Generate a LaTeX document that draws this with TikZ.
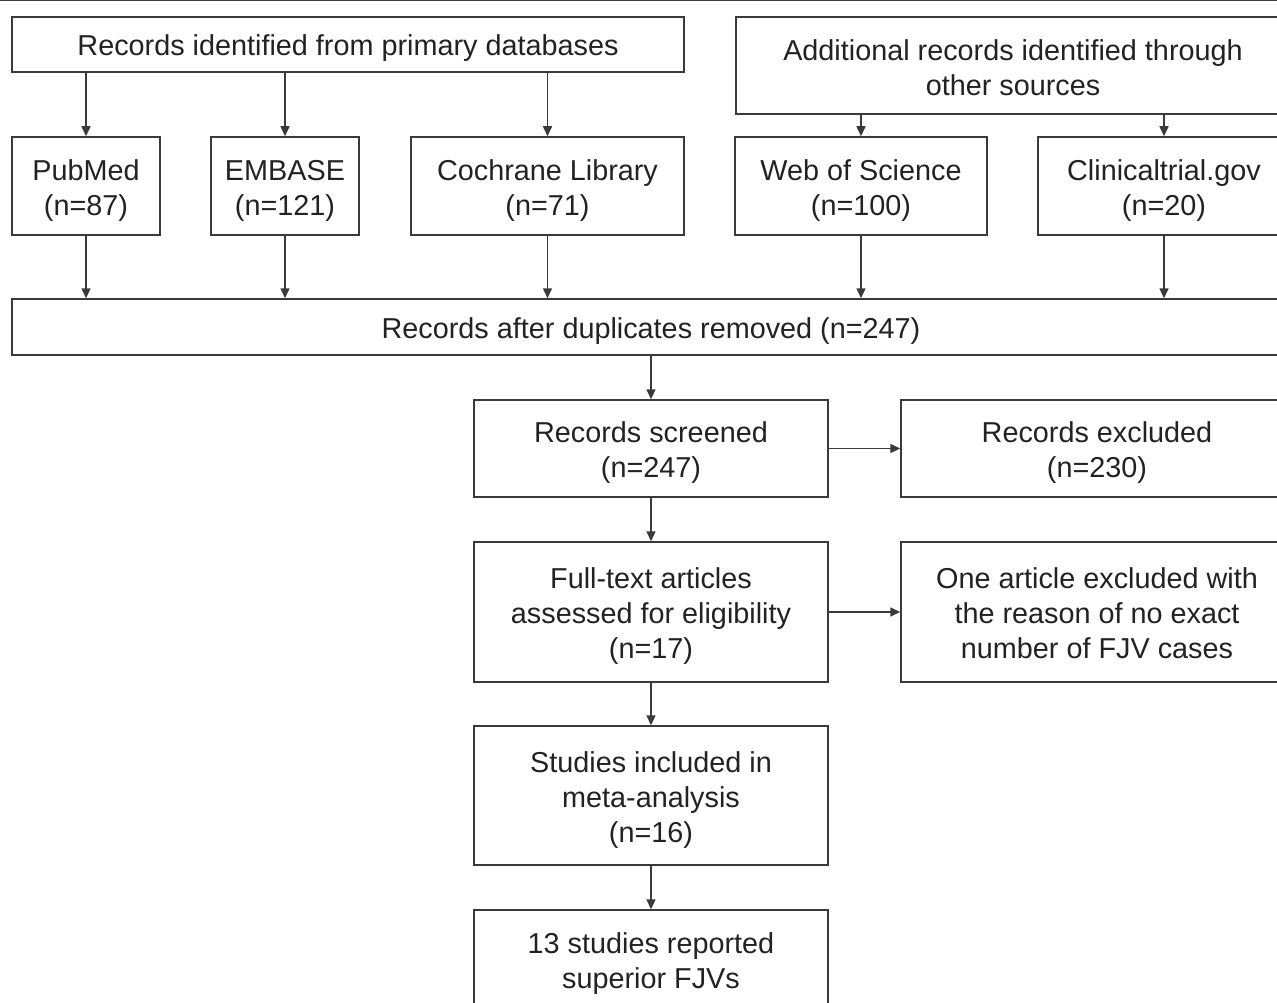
\documentclass[tikz,border=0pt]{standalone}
\usepackage{fontspec}
\setmainfont{Liberation Sans}
\usetikzlibrary{arrows.meta}
\definecolor{ln}{HTML}{3A3A3A}
\definecolor{tx}{HTML}{222222}
\newcommand\tstr{\rule{0pt}{29pt}}
\begin{document}
\begin{tikzpicture}[x=1pt,y=-1pt,
  box/.style={draw=ln, line width=1.5pt, rectangle, inner sep=0pt, align=center, text=tx,
    font=\fontsize{28.8}{35}\selectfont,
    execute at begin node={\rule{0pt}{30pt}},
    execute at end node={\rule[-7pt]{0pt}{7pt}}},
  mbox/.style={draw=ln, line width=1.5pt, rectangle, inner sep=0pt, align=center, text=tx,
    font=\fontsize{28.8}{35}\selectfont},
  arr/.style={draw=ln, line width=1.5pt, -{Triangle[length=10pt,width=9pt]}}]
\clip (0,0) rectangle (1277,1003);
\useasboundingbox (0,0) rectangle (1277,1003);
\draw[ln, line width=1.5pt] (0,0.75) -- (1277,0.75);
% top row
\node[box, minimum width=672pt, minimum height=55pt] (top) at (348,44.5) {Records identified from primary databases};
\node[mbox, minimum width=554pt, minimum height=97pt] (add) at (1013,65.5) {\rule{0pt}{25pt}Additional records identified through\\other sources};
% sources
\node[mbox, minimum width=148pt, minimum height=98pt] (pub) at (86,186) {\tstr PubMed\\(n=87)};
\node[mbox, minimum width=148pt, minimum height=98pt] (emb) at (285,186) {\tstr EMBASE\\(n=121)};
\node[mbox, minimum width=273pt, minimum height=98pt] (coch) at (547.5,186) {\tstr Cochrane Library\\(n=71)};
\node[mbox, minimum width=252pt, minimum height=98pt] (wos) at (861,186) {\tstr Web of Science\\(n=100)};
\node[mbox, minimum width=252pt, minimum height=98pt] (clin) at (1164,186) {\tstr Clinicaltrial.gov\\(n=20)};
% duplicates
\node[box, minimum width=1278pt, minimum height=56pt] (dup) at (651,327) {Records after duplicates removed (n=247)};
% main column
\node[mbox, minimum width=354pt, minimum height=97pt] (scr) at (651,448.5) {\tstr Records screened\\(n=247)};
\node[mbox, minimum width=392pt, minimum height=97pt] (exc) at (1097,448.5) {\tstr Records excluded\\(n=230)};
\node[mbox, minimum width=354pt, minimum height=140pt] (full) at (651,612) {\tstr Full-text articles\\assessed for eligibility\\(n=17)};
\node[mbox, minimum width=392pt, minimum height=140pt] (one) at (1097,612) {\rule{0pt}{23pt}One article excluded with\\the reason of no exact\\number of FJV cases};
\node[mbox, minimum width=354pt, minimum height=139pt] (inc) at (651,795.5) {\tstr Studies included in\\meta-analysis\\(n=16)};
\node[mbox, minimum width=354pt, minimum height=100pt] (thr) at (651,960) {\rule{0pt}{27pt}13 studies reported\\superior FJVs};
% arrows top -> sources
\foreach \n in {pub,emb,coch} \draw[arr] (\n.north |- top.south) -- (\n.north);
\foreach \n in {wos,clin} \draw[arr] (\n.north |- add.south) -- (\n.north);
% sources -> dup
\foreach \n in {pub,emb,coch,wos,clin} \draw[arr] (\n.south) -- (\n.south |- dup.north);
\draw[arr] (dup.south -| scr.north) -- (scr.north);
\draw[arr] (scr.east) -- (exc.west);
\draw[arr] (scr.south) -- (full.north);
\draw[arr] (full.east) -- (one.west);
\draw[arr] (full.south) -- (inc.north);
\draw[arr] (inc.south) -- (thr.north);
\end{tikzpicture}
\end{document}
